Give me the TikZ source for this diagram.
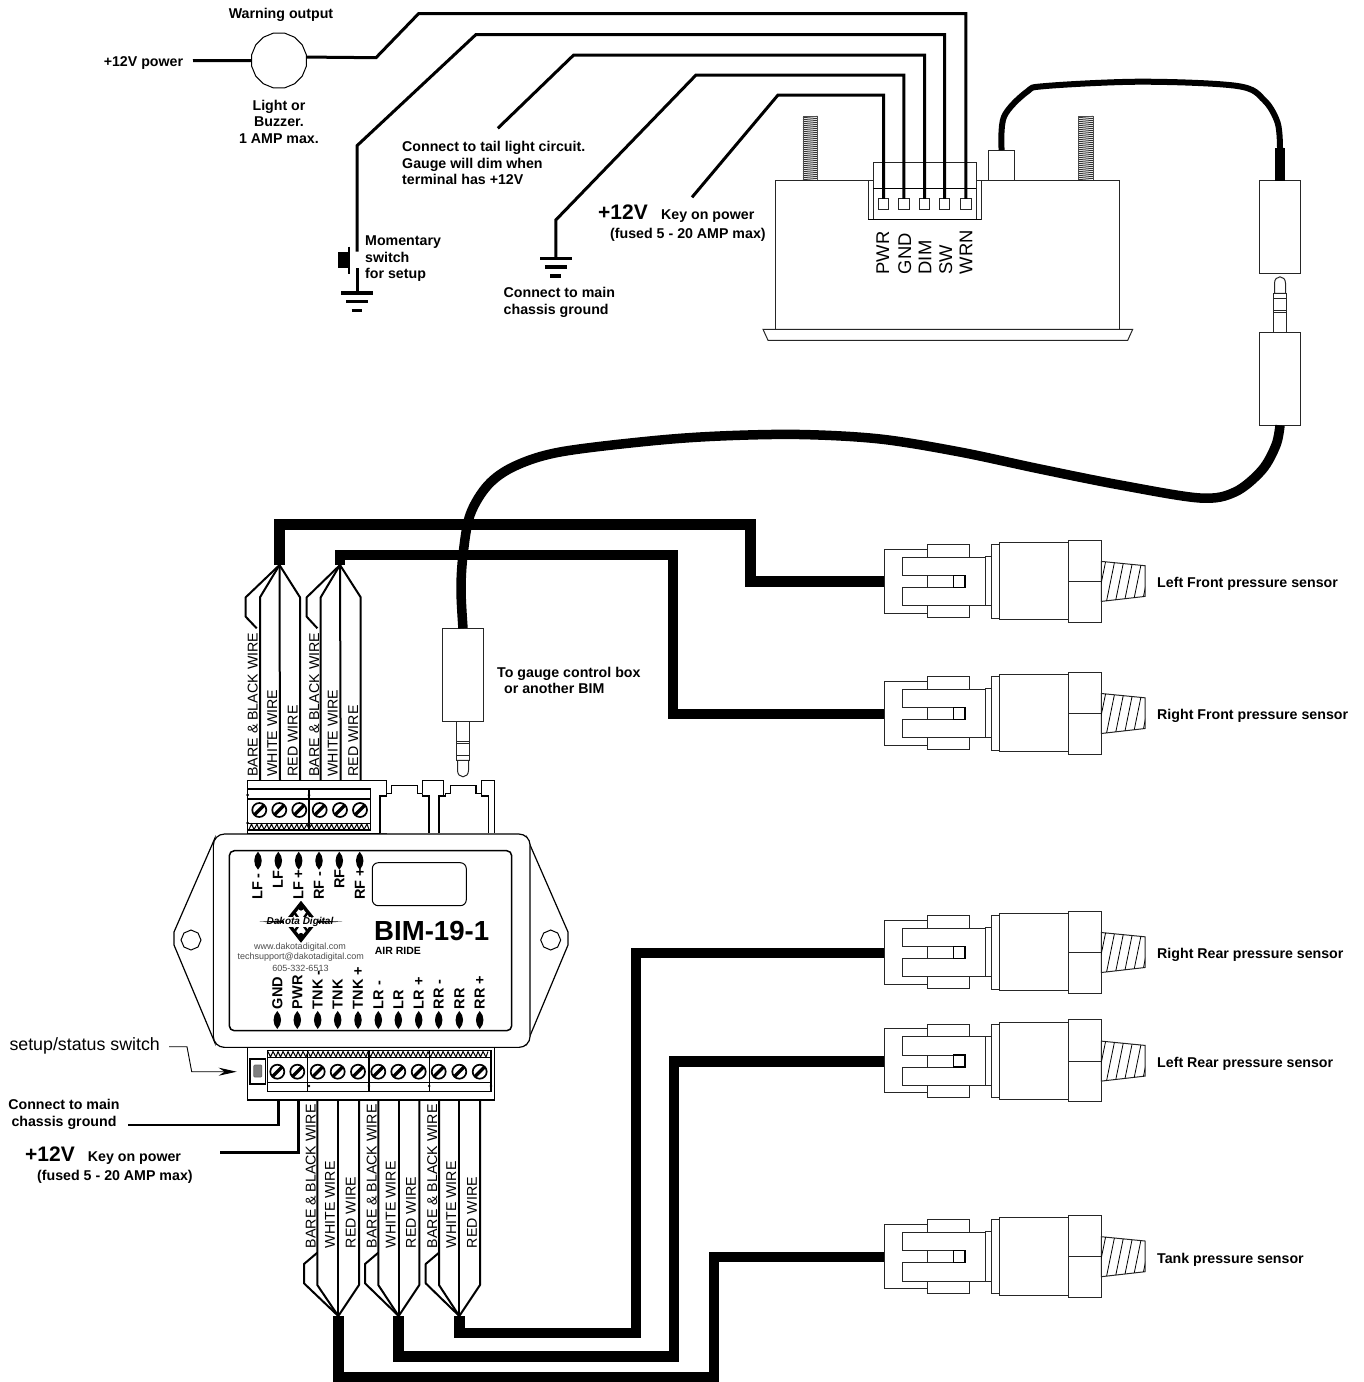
\documentclass[tikz,border=0pt]{standalone}
\usepackage{fontspec}
\setmainfont{Liberation Sans}
\usetikzlibrary{arrows.meta,shapes.geometric}
\tikzset{
  lb/.style={font=\fontsize{14.2}{16.7}\selectfont\bfseries,inner sep=0,align=left,anchor=west,yshift=-1.8pt},
  lc/.style={font=\fontsize{14.2}{16.7}\selectfont\bfseries,inner sep=0,align=center,yshift=-1.8pt},
  big/.style={font=\fontsize{21}{24}\selectfont\bfseries,inner sep=0,anchor=west},
  wiretext/.style={font=\fontsize{14.2}{16}\selectfont,inner sep=0,rotate=90,anchor=west},
  pintext/.style={font=\fontsize{18.4}{20}\selectfont,inner sep=0,rotate=90,anchor=west},
  paneltext/.style={font=\fontsize{14.5}{16}\selectfont\bfseries,inner sep=0,rotate=90,anchor=west},
  webtext/.style={font=\fontsize{9}{11}\selectfont,text=black!70,inner sep=0},
  thinwire/.style={line width=3,line join=miter},
  thick wire/.style={line width=10.6,line join=miter},
  harness/.style={line width=2,line join=round},
  outline/.style={line width=1,draw=black!85},
  boxn/.style={draw=black!85,line width=1,fill=white,inner sep=0,outer sep=0},
  cable/.style={line width=9.5,line cap=butt,line join=round},
  gbars/.pic={
    \draw[line width=3.3] (-15.7,0)--(15.7,0);
    \draw[line width=3.3] (-11,8.7)--(11,8.7);
    \draw[line width=3.3] (-5.4,17.7)--(5.4,17.7);
  },
  screw/.pic={
    \draw[line width=1.7,fill=white] (0,0) circle (7);
    \draw[line width=3.4] (-4.8,4.8)--(4.8,-4.8);
  },
  leadlens/.pic={
    \fill (0,-9) .. controls (5,-4) and (5,4) .. (0,9) .. controls (-5,4) and (-5,-4) .. (0,-9);
  },
  jackplug/.pic={
    \draw[outline,fill=white] (-6.3,0) rectangle (6.3,39);
    \draw[outline] (-6.3,20.3)--(6.3,20.3) (-6.3,22)--(6.3,22) (-6.3,34)--(6.3,34);
    \draw[outline,fill=white] (-5.5,39)--(-5.5,49) .. controls (-5.5,53) and (-3,55.5) .. (0,55.5)
       .. controls (3,55.5) and (5.5,53) .. (5.5,49)--(5.5,39)--cycle;
  },
  sensor/.pic={
    \coordinate (-w) at (0,0);
    \draw[outline,fill=white] (43.3,-37.3) rectangle (85,-24.7);
    \draw[outline,fill=white] (43.3,24) rectangle (85,36);
    \draw[outline,fill=white] (0.3,-32.7) rectangle (43.3,31.3);
    \draw[outline,fill=white] (18.3,-24.7)--(101,-24.7)--(101,24)--(18.3,24)--(18.3,5.7)--(81,5.7)--(81,-6.3)--(18.3,-6.3)--cycle;
    \draw[outline] (43.3,-6.3)--(43.3,5.7);
    \draw[line width=1.3,fill=white] (69.3,-6.3) rectangle (81,5.7);
    \draw[outline,fill=white] (101,-25.3) rectangle (107,24);
    \draw[outline,fill=white] (107,-37.3) rectangle (115,36.3);
    \draw[outline,fill=white] (115,-39.3) rectangle (184.3,38);
    \draw[outline,fill=white] (184.3,-41.7) rectangle (217.3,40.3);
    \draw[outline] (184.3,-0.3)--(217.3,-0.3);
    \draw[outline,fill=white] (217.3,-20.3)--(261,-16)--(261,14.7)--(217.3,19.7)--cycle;
    \begin{scope}
      \clip (217.3,-20.3)--(261,-16)--(261,14.7)--(217.3,19.7)--cycle;
      \foreach \t in {222,231,240,249,258,267}
        \draw[line width=0.8] (\t,-22)--(\t-9,22);
    \end{scope}
  }
}
\begin{document}
\begin{tikzpicture}[x=1pt,y=-1pt]
\useasboundingbox (0,0) rectangle (1364,1382);

% ---------- gauge ----------
\foreach \sx in {803,1078.3}{
  \foreach \sy in {117,119,...,180}
    \draw[line width=1,black!80] (\sx,\sy+0.6)--(\sx+14.5,\sy-0.6);
  \draw[line width=0.6,black!70] (\sx,116) rectangle (\sx+14.5,180.3);
}
\node[boxn,minimum width=344pt,minimum height=149pt] (gauge) at (947.6,254.8) {};
\draw[outline,fill=white] (763,329.3)--(1132.7,329.3)--(1127.7,340.3)--(768,340.3)--cycle;
\node[boxn,minimum width=113pt,minimum height=39pt] (connlow) at (924.5,199.8) {};
\node[boxn,minimum width=103pt,minimum height=56.6pt] (conn) at (924.5,191) {};
\draw[line width=1] (873,188.3)--(976,188.3);
\draw[line width=1.2] (868,219.3)--(981,219.3);
\node[boxn,minimum width=25.6pt,minimum height=30.3pt] (plugG) at (1001.6,165.2) {};
\foreach \px/\nm in {883.5/PWR,903.8/GND,924.5/DIM,944.7/SW,965.8/WRN}{
  \node[boxn,minimum size=10.4pt] (pin\nm) at (\px,204) {};
}
\foreach \px/\nm in {882.8/PWR,904.8/GND,925/DIM,945.7/SW,966/WRN}{
  \node[pintext] (lab\nm) at (\px,274.5) {\nm};
}

% top wires
\coordinate (pw) at (193,60.7);
\node[regular polygon,regular polygon sides=16,draw,line width=1,fill=white,minimum size=56pt,inner sep=0] (bulb) at (279,60.5) {};
\draw[thinwire] (pw)--(bulb.west);
\draw[thinwire] (bulb.7)--(376,57.7)--(418.7,13.5)-|(pinWRN.north);
\coordinate (swtop) at (357,251.7);
\coordinate (swbot) at (357,268);
\coordinate (gndA) at (357,293);
\coordinate (gndB) at (555.8,258.3);
\coordinate (dimEnd) at (497.8,128.3);
\coordinate (keyEnd) at (692,197.3);
\draw[thinwire] (swtop)--(357,145.7)--(476,34.5)-|(pinSW.north);
\draw[thinwire] (dimEnd)--(573.7,55)-|(pinDIM.north);
\draw[thinwire] (gndB)--(555.8,220)--(696,75)-|(pinGND.north);
\draw[thinwire] (keyEnd)--(778,95)-|(pinPWR.north);
\draw[thinwire] (swbot)--(gndA);
\pic at (gndA) {gbars};
\pic at (gndB) {gbars};
\draw[line width=2.2] (349,246.7)--(349,274);
\fill (338,251.7) rectangle (349,268);

% ---------- gauge cable and in-line jack ----------
\node[boxn,minimum width=41.4pt,minimum height=92.3pt] (jackT) at (1280,227.1) {};
\node[boxn,minimum width=41.4pt,minimum height=93pt] (jackM) at (1280,378.8) {};
\pic[yscale=-1] at (jackM.north) {jackplug};
\draw[line width=6] plot[smooth,tension=0.55] coordinates {(plugG.north) (1004,116.7) (1027,91.7) (1046,86) (1141.8,81.7) (1237.5,86) (1264,100) (1277.7,123) (1280,150)};
\draw[line width=10] (1280,148)--(jackT.north);

% ---------- long cable to BIM ----------
\node[boxn,minimum width=41.7pt,minimum height=93pt] (jackL) at (463,674.8) {};
\pic at (jackL.south) {jackplug};
\draw[cable] plot[smooth,tension=0.55] coordinates {(jackL.north) (461,590) (463,555) (470,515) (488,485) (515,466) (560,452) (650,441) (720,436) (800,434.5) (880,439) (960,452) (1040,469) (1120,485) (1200,498) (1235,492) (1262,470) (1276,445) (jackM.south)};

% ---------- sensors ----------
\pic (lf) at (884,581.7) {sensor};
\pic (rf) at (884,713.8) {sensor};
\pic (rr) at (884,952.8) {sensor};
\pic (lr) at (884,1061.4) {sensor};
\pic (tk) at (884,1257) {sensor};
\foreach \yy/\txt/\nm in {582/Left Front pressure sensor/a,714/Right Front pressure sensor/b,953/Right Rear pressure sensor/c,1062/Left Rear pressure sensor/d,1258/Tank pressure sensor/e}{
  \node[lb] (sens\nm) at (1157,\yy) {\txt};
}

% ---------- harness nodes ----------
\coordinate (hA) at (279.5,565);
\coordinate (hB) at (340,565);
\coordinate (hC) at (338.3,1316);
\coordinate (hD) at (398.7,1316);
\coordinate (hE) at (459.3,1316);

\draw[thick wire] (hA)--(279.5,524.7)-|(750.3,581.7)|-(lf-w);
\draw[thick wire] (hB)--(340,555)-|(672.8,713.8)|-(rf-w);
\draw[thick wire] (hE)--(459.3,1333)-|(636,952.8)|-(rr-w);
\draw[thick wire] (hD)--(398.7,1356.7)-|(674,1061.4)|-(lr-w);
\draw[thick wire] (hC)--(338.3,1377)-|(714,1257)|-(tk-w);

% top harness
\foreach \c/\xa/\xb/\xc/\xl in {hA/260/280/300/245.7,hB/320.7/340.7/360.7/306.7}{
  \draw[harness] (\xa,780.7)--(\xa,597.3)--(\c);
  \draw[harness] (\xb,780.7)--(\c);
  \draw[harness] (\xc,780.7)--(\xc,597.3)--(\c);
  \draw[harness] (\xa-3.3,628.3)--(\xl,616.7)--(\xl,597.3)--(\c);
}
\foreach \x/\y/\t/\nm in {252.7/776.7/BARE \& BLACK WIRE/a,272.3/776.7/WHITE WIRE/b,292.7/776.7/RED WIRE/c,314.3/776.7/BARE \& BLACK WIRE/d,332.7/776.7/WHITE WIRE/e,353.3/776.7/RED WIRE/f,310.7/1248.3/BARE \& BLACK WIRE/g,330/1248.3/WHITE WIRE/h,350.7/1248.3/RED WIRE/i,371.7/1248.3/BARE \& BLACK WIRE/j,390.7/1248.3/WHITE WIRE/k,411/1248.3/RED WIRE/l,432.3/1248.3/BARE \& BLACK WIRE/m,451.3/1248.3/WHITE WIRE/n,472/1248.3/RED WIRE/o}{
  \node[wiretext] (wt\nm) at (\x,\y) {\t};
}
% bottom harness
\foreach \c/\xa/\xb/\xc/\xl in {hC/317.3/338.3/359/304,hD/378.3/398.7/419.3/365,hE/439/459.3/480/425.7}{
  \draw[harness] (\xa,1100)--(\xa,1285)--(\c);
  \draw[harness] (\xb,1100)--(\c);
  \draw[harness] (\xc,1100)--(\xc,1285)--(\c);
  \draw[harness] (\xa,1252.7)--(\xl,1264)--(\xl,1283.3)--(\c);
}

% ---------- top of BIM: terminal block and phone jacks ----------
\draw[line width=1.5,fill=white] (247.7,833.3)--(247.7,780.7)--(386.7,780.7)--(386.7,833.3)--cycle;
\draw[line width=1.5,fill=white] (380,833.3)--(380,796)--(386.7,796)--(386.7,793.3)--(391.7,793.3)--(391.7,785.3)--(417.3,785.3)--(417.3,793.3)--(422.3,793.3)--(422.3,796)--(429,796)--(429,833.3);
\draw[line width=1.5,fill=white] (422.3,793.3)--(422.3,780.7)--(443.3,780.7)--(443.3,796);
\draw[line width=1.5,fill=white] (439,833.3)--(439,796)--(445.7,796)--(445.7,793.3)--(450.7,793.3)--(450.7,785.3)--(476,785.3)--(476,793.3)--(481.7,793.3)--(481.7,796)--(488.3,796)--(488.3,833.3);
\draw[line width=1.5] (481.7,793.3)--(481.7,780.7)--(494.3,780.7)--(494.3,833.3);
\draw[line width=1.5,fill=white] (247.7,789) rectangle (370.7,830);
\draw[line width=1.2] (247.7,799)--(370.7,799) (247.7,823.3)--(370.7,823.3) (309,789)--(309,830);
\foreach \x in {249,259,...,362}
  \draw[line width=1] (\x,829.5)--(\x+2.5,824)--(\x+5,829.5)--(\x+8,824)--(\x+10,829.5);
\draw[line width=2] (247.7,830)--(370.7,830);
\foreach \x in {259.3,279.3,299.3,319.7,340,360}
  \pic at (\x,810) {screw};
\foreach \x/\y in {247.7/795,247.7/823,309/795,309/823}
  \fill (\x,\y) circle (1.5);

% ---------- BIM bottom block ----------
\draw[line width=1.5,fill=white] (247.7,1045) rectangle (494.3,1100);
\draw[line width=1.5,fill=white] (267.3,1050.7) rectangle (491,1091.7);
\draw[line width=1.2] (267.3,1057.3)--(491,1057.3) (267.3,1082.3)--(491,1082.3);
\draw[line width=1.2] (307.7,1050.7)--(307.7,1091.7) (369,1050.7)--(369,1091.7) (429.3,1050.7)--(429.3,1091.7);
\foreach \x in {268,278,...,480}
  \draw[line width=1] (\x,1051.5)--(\x+2.5,1057)--(\x+5,1051.5)--(\x+8,1057)--(\x+10,1051.5);
\foreach \x in {277.3,297.3,317.7,337.7,358,378.3,398.3,418.7,438.7,459.3,479.7}
  \pic at (\x,1071.7) {screw};
\foreach \x in {309,369,429.3,491}
  \fill (\x,1086) circle (1.4);
\node[draw,line width=1.5,fill=white,inner sep=0,minimum width=15.7pt,minimum height=25pt] (swbox) at (257.8,1071.5) {};
\node[draw=black!60,line width=0.8,fill=black!50,inner sep=0,minimum width=8pt,minimum height=12pt,rounded corners=1pt] (swled) at (257.8,1071) {};

% ---------- BIM housing ----------
\draw[line width=1.2,fill=white] (215,838)--(174,932)--(174,945)--(215,1043)--cycle;
\draw[line width=1.2,fill=white] (527,838)--(568,932)--(568,945)--(527,1043)--cycle;
\node[draw,line width=1.2,fill=white,rounded corners=11pt,inner sep=0,minimum width=316.7pt,minimum height=213.3pt] (housing) at (371.7,940.7) {};
\foreach \hx in {191,550.7}
  \draw[line width=1] (\hx+10,940)--(\hx+7,947)--(\hx,950)--(\hx-7,947)--(\hx-10,940)--(\hx-7,933)--(\hx,930)--(\hx+7,933)--cycle;
\node[draw,line width=1.5,fill=white,rounded corners=5pt,inner sep=0,minimum width=282.4pt,minimum height=180pt] (panel) at (370.5,940.7) {};
\node[draw,line width=1,fill=white,rounded corners=6pt,inner sep=0,minimum width=94pt,minimum height=43pt] (window) at (419.3,884.2) {};

\foreach \x in {258,278.3,298.7,319,339.3,359.7}
  \pic at (\x,860.7) {leadlens};
\foreach \x in {277.3,297.3,317.7,337.7,358,378.3,398.3,418.7,438.7,459.3,479.7}
  \pic at (\x,1020) {leadlens};
\foreach \x/\y/\t/\nm in {257.5/900/LF -/a,278/889/LF/b,298.5/900/LF +/c,319/900/RF -/d,339.5/889/RF/e,360/900/RF +/f}{
  \node[paneltext] (pt\nm) at (\x,\y) {\t};
}
\foreach \x/\t/\nm in {277.3/GND/a,297.3/PWR/b,317.7/TNK -/c,337.7/TNK/d,358/TNK +/e,378.3/LR -/f,398.3/LR/g,418.7/LR +/h,438.7/RR -/i,459.3/RR/j,479.7/RR +/k}{
  \node[paneltext] (pb\nm) at (\x,1009.3) {\t};
}
% logo
\draw[line width=3.4,line join=miter] (301,903.5)--(315.5,921.7)--(301,940)--(286.5,921.7)--cycle;
\draw[line width=2.4] (294,912)--(308,932) (308,912)--(294,932);
\fill (301,908) circle (2.6) (301,935.5) circle (2.6) (292,916) circle (1.6) (310,916) circle (1.6) (292,927) circle (1.6) (310,927) circle (1.6);
\fill (259.3,921.7)--(300,919.7)--(342.3,921.7)--(300,923.7)--cycle;
\fill[white] (284,917.3) rectangle (318,926.7);
\node[font=\fontsize{10}{12}\selectfont\bfseries\itshape,inner sep=0] (logo) at (300,922) {Dakota Digital};
\node[webtext] (web) at (300,947) {www.dakotadigital.com};
\node[webtext] (mail) at (300.7,957) {techsupport@dakotadigital.com};
\node[webtext] (tel) at (300.5,968) {605-332-6513};
\node[font=\fontsize{27.6}{30}\selectfont\bfseries,inner sep=0,anchor=west] (bim) at (374,931) {BIM-19-1};
\node[font=\fontsize{10.5}{12}\selectfont\bfseries,inner sep=0,anchor=west] (air) at (374.7,951) {AIR RIDE};

% ---------- left side wires ----------
\coordinate (gndS) at (128.3,1125);
\coordinate (gndT) at (278.3,1100);
\coordinate (keyS) at (220,1152.7);
\coordinate (keyT) at (298.3,1100);
\draw[line width=2.5] (gndS)-|(gndT);
\draw[line width=2.5] (keyS)-|(keyT);
\coordinate (arrS) at (169,1046.7);
\coordinate (arrE) at (236.7,1071.7);
\draw[line width=0.9,-{Stealth[length=18pt,width=8pt]}] (arrS)--(187,1046.7)--(191.7,1071.7)--(arrE);

% ---------- texts ----------
\node[font=\fontsize{17.8}{20}\selectfont,inner sep=0,anchor=west] (setup) at (9.3,1046) {setup/status switch};
\node[lc] (conn1) at (64,1112.3) {Connect to main\\chassis ground};
\node[big] (p12b) at (25,1154) {+12V};
\node[lb] (keyb) at (87.7,1156) {Key on power};
\node[lb] (fuseb) at (37,1175.5) {(fused 5 - 20 AMP max)};
\node[lb] (pwrt) at (103.6,61.3) {+12V power};
\node[lc] (warn) at (281,13.3) {Warning output};
\node[lc] (light) at (279,120) {Light or\\Buzzer.\\1 AMP max.};
\node[lb] (tail) at (402,161.3) {Connect to tail light circuit.\\Gauge will dim when\\terminal has +12V};
\node[lb] (mom) at (365,257) {Momentary\\switch\\for setup};
\node[lb] (conn2) at (503.5,300.6) {Connect to main\\chassis ground};
\node[big] (p12t) at (598,212) {+12V};
\node[lb] (keyt) at (661,214) {Key on power};
\node[lb] (fuset) at (610,233) {(fused 5 - 20 AMP max)};
\node[lb] (togauge) at (497,678.5) {To gauge control box\\\hspace*{7pt}or another BIM};
\end{tikzpicture}
\end{document}
